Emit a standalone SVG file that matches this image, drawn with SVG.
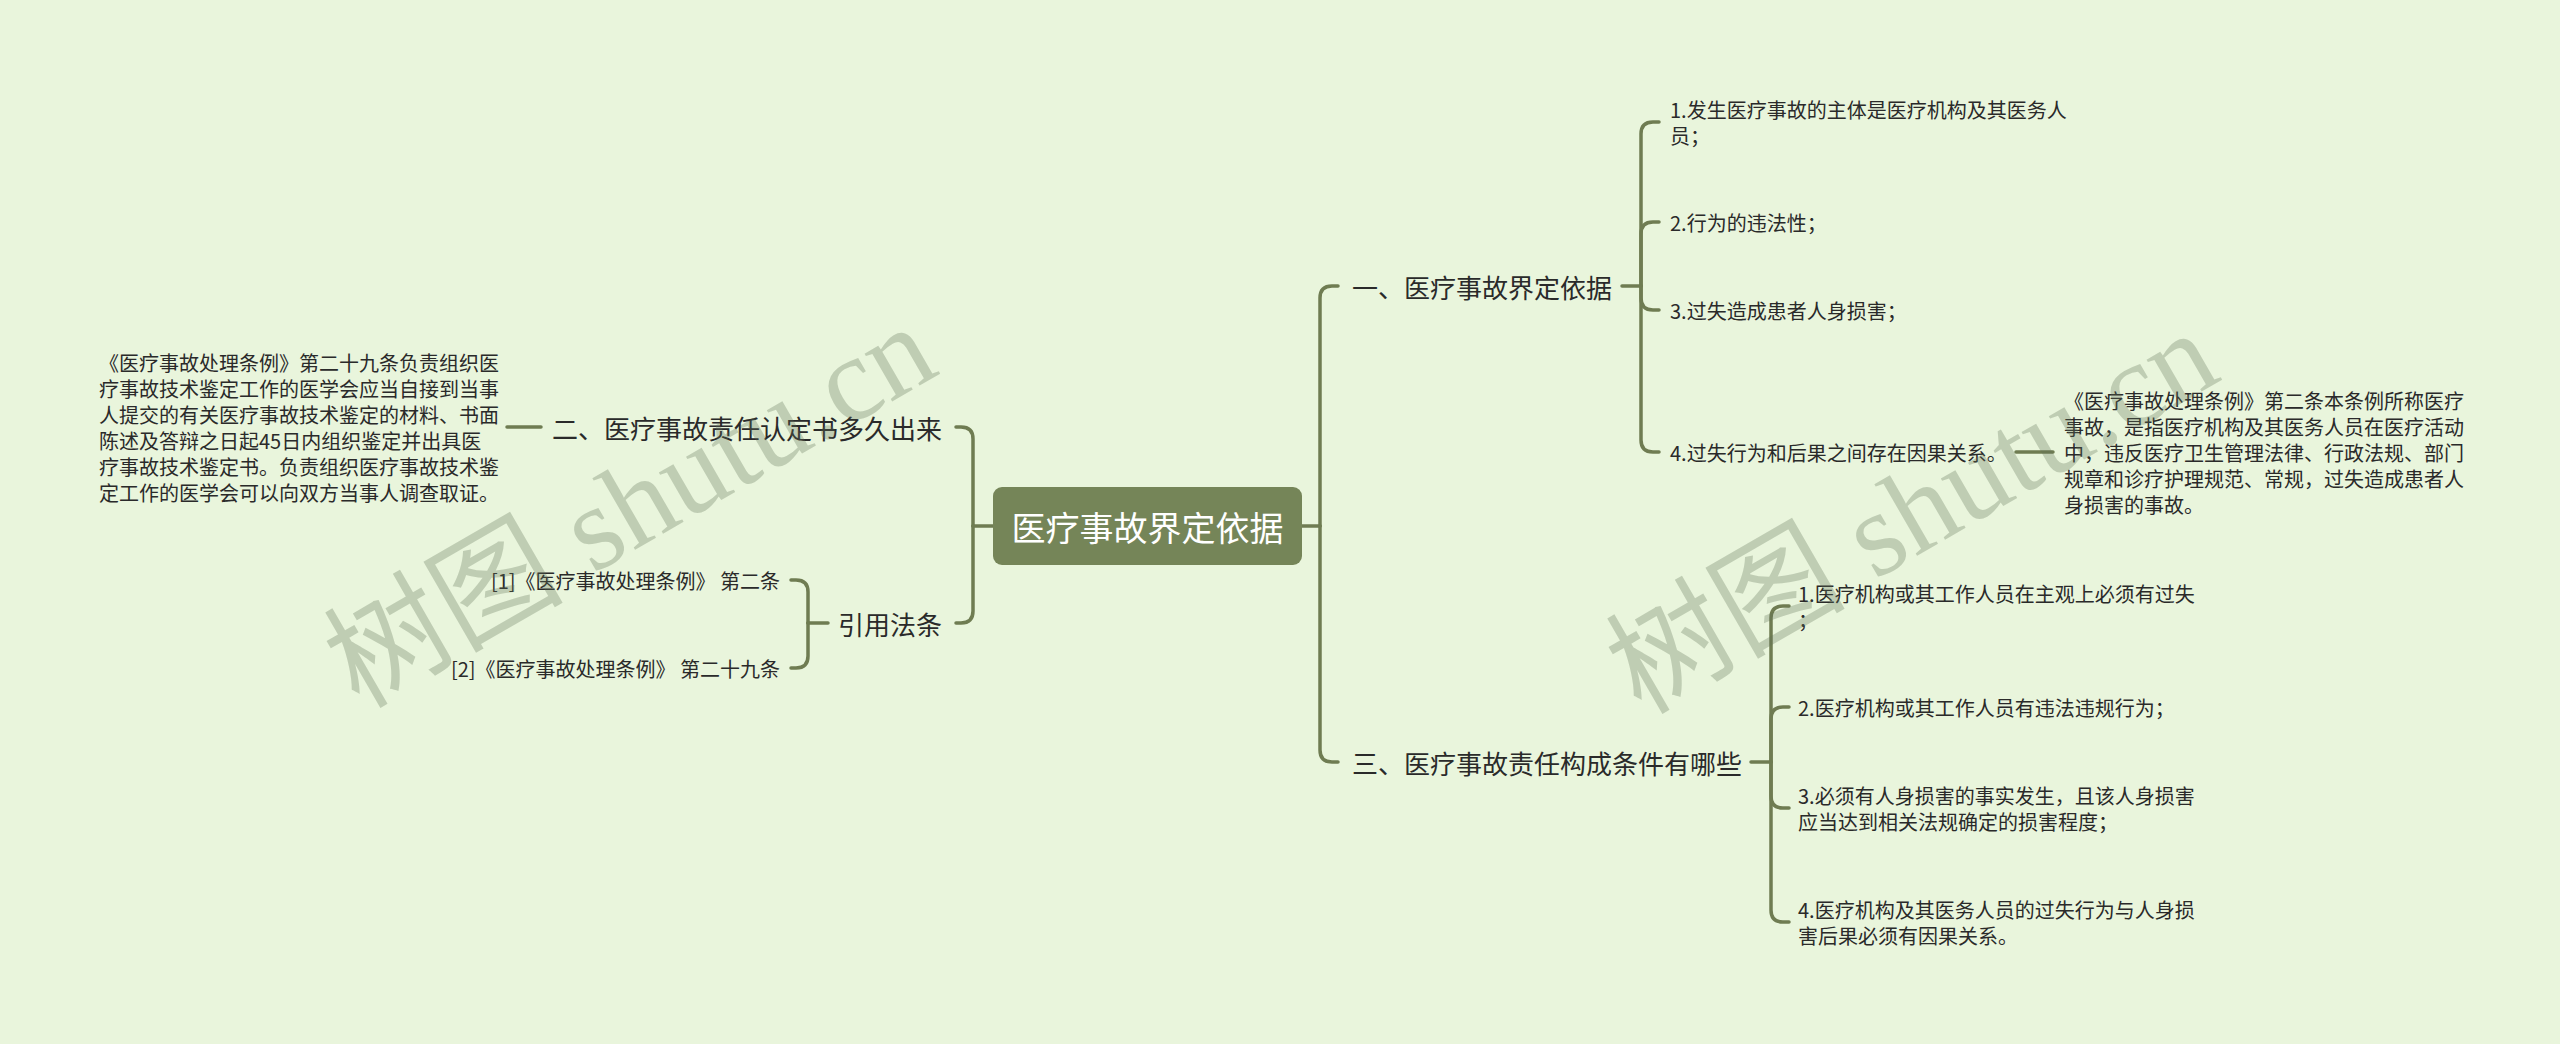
<svg xmlns="http://www.w3.org/2000/svg" width="2560" height="1044" viewBox="0 0 2560 1044">
<style>
text{font-family:"Noto Sans CJK SC","Liberation Sans",sans-serif;fill:#2a2a2a;dominant-baseline:central}
.root{font-size:34px;fill:#ffffff}
.b{font-size:26px}
.c{font-size:20px}
.end{text-anchor:end}
.conn path{fill:none;stroke:#6f7c52;stroke-width:3.5;stroke-linecap:round;stroke-linejoin:round}
.wm{font-family:"Liberation Serif","Noto Sans CJK SC",serif;font-size:120px;fill:#5f6f55;fill-opacity:0.3;dominant-baseline:central;text-anchor:middle}
</style>
<rect width="2560" height="1044" fill="#e9f5dc"/>
<g id="connectors" class="conn">
<path d="M1302,526 L1320,526"/>
<path d="M1320,526 L1320,298 Q1320,286 1332,286 L1338,286"/>
<path d="M1320,526 L1320,750 Q1320,762 1332,762 L1338,762"/>
<path d="M1622,286 L1641,286"/>
<path d="M1641,286 L1641,134 Q1641,122 1653,122 L1659,122"/>
<path d="M1641,286 L1641,234 Q1641,222 1653,222 L1659,222"/>
<path d="M1641,286 L1641,298 Q1641,310 1653,310 L1659,310"/>
<path d="M1641,286 L1641,440 Q1641,452 1653,452 L1659,452"/>
<path d="M2016,452 L2053,452"/>
<path d="M1751,762 L1771,762"/>
<path d="M1771,762 L1771,618 Q1771,606 1783,606 L1789,606"/>
<path d="M1771,762 L1771,719 Q1771,707 1783,707 L1789,707"/>
<path d="M1771,762 L1771,796 Q1771,808 1783,808 L1789,808"/>
<path d="M1771,762 L1771,910 Q1771,922 1783,922 L1789,922"/>
<path d="M993,526 L973,526"/>
<path d="M973,526 L973,439 Q973,427 961,427 L956,427"/>
<path d="M973,526 L973,611 Q973,623 961,623 L956,623"/>
<path d="M541,427 L507,427"/>
<path d="M828,623 L808,623"/>
<path d="M808,623 L808,592 Q808,580 796,580 L791,580"/>
<path d="M808,623 L808,656 Q808,668 796,668 L791,668"/>
</g>
<g id="root">
<rect x="993" y="487" width="309" height="78" rx="9" fill="#758558"/>
<text class="root" x="1147.5" y="526" text-anchor="middle">医疗事故界定依据</text>
</g>
<g id="b1"><text class="b" x="1352" y="286">一、医疗事故界定依据</text></g>
<g id="b1c1"><text class="c"><tspan x="1670" y="109">1.发生医疗事故的主体是医疗机构及其医务人</tspan><tspan x="1670" y="135">员；</tspan></text></g>
<g id="b1c2"><text class="c" x="1670" y="222">2.行为的违法性；</text></g>
<g id="b1c3"><text class="c" x="1670" y="310">3.过失造成患者人身损害；</text></g>
<g id="b1c4"><text class="c" x="1670" y="452">4.过失行为和后果之间存在因果关系。</text></g>
<g id="b1c4d"><text class="c"><tspan x="2064" y="400">《医疗事故处理条例》第二条本条例所称医疗</tspan><tspan x="2064" y="426">事故，是指医疗机构及其医务人员在医疗活动</tspan><tspan x="2064" y="452">中，违反医疗卫生管理法律、行政法规、部门</tspan><tspan x="2064" y="478">规章和诊疗护理规范、常规，过失造成患者人</tspan><tspan x="2064" y="504">身损害的事故。</tspan></text></g>
<g id="b3"><text class="b" x="1352" y="762">三、医疗事故责任构成条件有哪些</text></g>
<g id="b3c1"><text class="c"><tspan x="1798" y="593">1.医疗机构或其工作人员在主观上必须有过失</tspan><tspan x="1798" y="619">；</tspan></text></g>
<g id="b3c2"><text class="c" x="1798" y="707">2.医疗机构或其工作人员有违法违规行为；</text></g>
<g id="b3c3"><text class="c"><tspan x="1798" y="795">3.必须有人身损害的事实发生，且该人身损害</tspan><tspan x="1798" y="821">应当达到相关法规确定的损害程度；</tspan></text></g>
<g id="b3c4"><text class="c"><tspan x="1798" y="909">4.医疗机构及其医务人员的过失行为与人身损</tspan><tspan x="1798" y="935">害后果必须有因果关系。</tspan></text></g>
<g id="b2"><text class="b end" x="942" y="427">二、医疗事故责任认定书多久出来</text></g>
<g id="b2c1"><text class="c"><tspan x="99" y="362">《医疗事故处理条例》第二十九条负责组织医</tspan><tspan x="99" y="388">疗事故技术鉴定工作的医学会应当自接到当事</tspan><tspan x="99" y="414">人提交的有关医疗事故技术鉴定的材料、书面</tspan><tspan x="99" y="440">陈述及答辩之日起45日内组织鉴定并出具医</tspan><tspan x="99" y="466">疗事故技术鉴定书。负责组织医疗事故技术鉴</tspan><tspan x="99" y="492">定工作的医学会可以向双方当事人调查取证。</tspan></text></g>
<g id="b4"><text class="b end" x="942" y="623">引用法条</text></g>
<g id="b4c1"><text class="c end" x="780" y="580">[1]《医疗事故处理条例》 第二条</text></g>
<g id="b4c2"><text class="c end" x="780" y="668">[2]《医疗事故处理条例》 第二十九条</text></g>
<g id="watermark">
<text class="wm" transform="translate(630,506) rotate(-30)">树图 shutu.cn</text>
<text class="wm" transform="translate(1912,512) rotate(-30)">树图 shutu.cn</text>
</g>
</svg>
